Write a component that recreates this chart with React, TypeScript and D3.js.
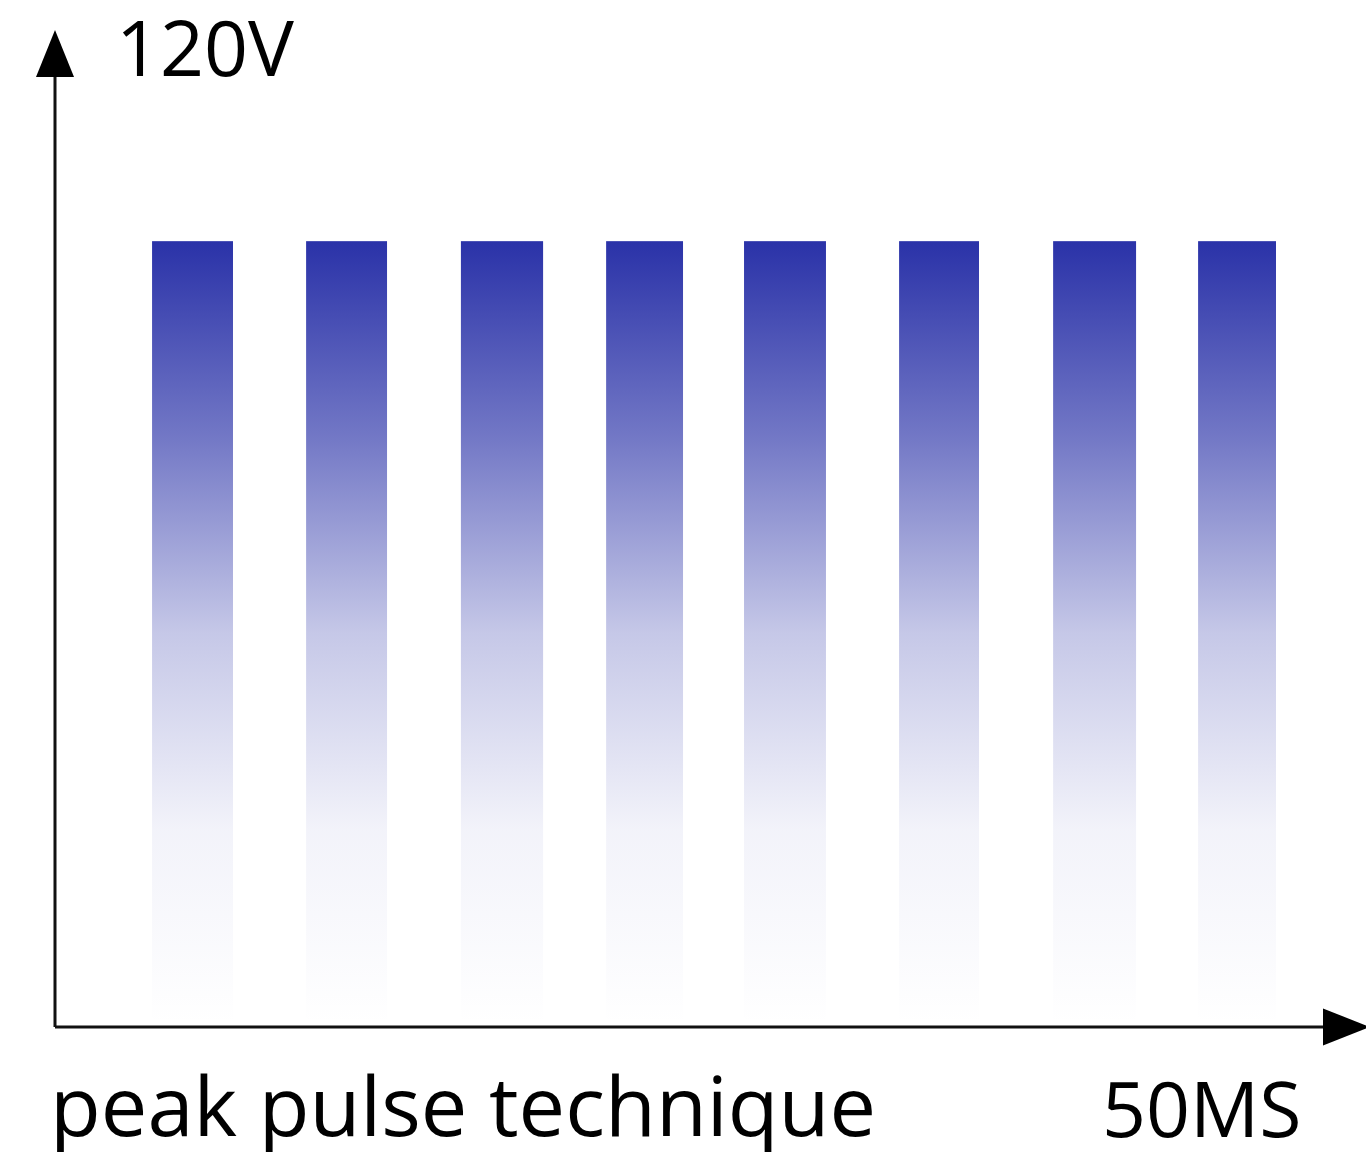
import React from "react";
import * as d3 from "d3";

// Pulse timing (ms) and amplitude (V)
const pulseStart = [3.85, 9.96, 16.1, 21.86, 27.33, 33.48, 39.59, 45.34];
const pulseEnd = [7.06, 13.17, 19.36, 24.91, 30.58, 36.65, 42.88, 48.43];
const pulseVolts = [100, 100, 100, 100, 100, 100, 100, 100];
const yLabel = "120V";
const xLabel = "50MS";
const title = "peak pulse technique";

const W = 1366;
const H = 1152;

export default function App() {
  const x = d3.scaleLinear().domain([0, 52]).range([55, 1366]);
  const y = d3.scaleLinear().domain([0, 120]).range([1027, 84]);
  const pulses = pulseStart.map((s, i) => ({ s, e: pulseEnd[i], v: pulseVolts[i] }));
  const x0 = x(0);
  const y0 = y(0);
  const font = "'Open Sans', 'Noto Sans', sans-serif";
  return (
    <svg
      width={W}
      height={H}
      viewBox={`0 0 ${W} ${H}`}
      style={{ position: "absolute", left: 0, top: 0, display: "block", background: "#fff" }}
    >
      <defs>
        <linearGradient id="pulseGrad" x1="0" y1="0" x2="0" y2="1">
          <stop offset="0" stopColor="#2a32a8" stopOpacity={1} />
          <stop offset="0.25" stopColor="#2a32a8" stopOpacity={0.66} />
          <stop offset="0.5" stopColor="#2a32a8" stopOpacity={0.27} />
          <stop offset="0.75" stopColor="#2a32a8" stopOpacity={0.06} />
          <stop offset="1" stopColor="#2a32a8" stopOpacity={0} />
        </linearGradient>
      </defs>
      {pulses.map((p, i) => (
        <rect
          key={i}
          x={x(p.s)}
          y={y(p.v)}
          width={x(p.e) - x(p.s)}
          height={y0 - 2 - y(p.v)}
          fill="url(#pulseGrad)"
        />
      ))}
      {/* axes */}
      <line x1={x0} y1={y0} x2={x0} y2={70} stroke="#111" strokeWidth={3} />
      <line x1={x0} y1={y0} x2={1330} y2={y0} stroke="#111" strokeWidth={3} />
      <path d={`M${x0},30 L${x0 + 19},77 L${x0 - 19},77 Z`} fill="#000" />
      <path d={`M1370,${y0} L1323,${y0 - 18.5} L1323,${y0 + 18.5} Z`} fill="#000" />
      <text x={116} y={76} fontFamily={font} fontSize={77} fill="#000">
        {yLabel}
      </text>
      <text x={50} y={1136} fontFamily={font} fontSize={83} fill="#000">
        {title}
      </text>
      <text x={1102} y={1137} fontFamily={font} fontSize={77} fill="#000">
        {xLabel}
      </text>
    </svg>
  );
}
